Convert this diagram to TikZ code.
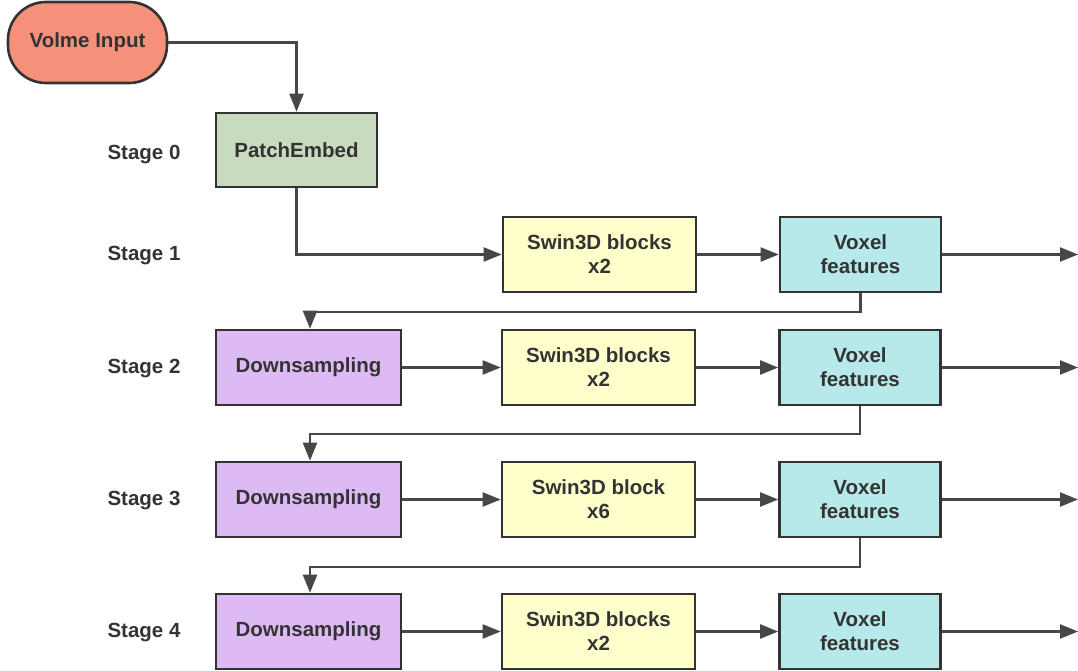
\documentclass[tikz,border=0pt]{standalone}
\usepackage{fontspec}
\setmainfont{Liberation Sans}
\usetikzlibrary{arrows.meta}
\definecolor{inputfill}{HTML}{F5917B}
\definecolor{embedfill}{HTML}{C8DBBE}
\definecolor{swinfill}{HTML}{FFFFCC}
\definecolor{voxfill}{HTML}{B7E9EA}
\definecolor{downfill}{HTML}{DEBAF5}
\definecolor{ink}{HTML}{333333}
\tikzset{
  box/.style={draw=ink, line width=2.6pt, text=ink, align=center,
    font=\fontsize{20.5}{24}\selectfont\bfseries, inner sep=0pt},
  inbox/.style={box, fill=inputfill, rounded corners=38pt, minimum width=159pt, minimum height=81pt},
  embedbox/.style={box, fill=embedfill, minimum width=161pt, minimum height=74pt},
  swinbox/.style={box, fill=swinfill, minimum width=193pt, minimum height=75pt},
  voxbox/.style={box, fill=voxfill, minimum width=161pt, minimum height=75pt},
  downbox/.style={box, fill=downfill, minimum width=185pt, minimum height=75pt},
  stagelbl/.style={text=ink, font=\fontsize{20.5}{24}\selectfont\bfseries},
  link/.style={draw=ink!90, line width=2.2pt, -{Triangle[length=18pt,width=14pt]}},
}
\begin{document}
\begin{tikzpicture}[x=1pt,y=-1pt]
\useasboundingbox (0,0) rectangle (1078,671);

% input and patch embedding
\node[inbox] (vin) at (87.5,42.5) {Volme Input};
\node[embedbox] (pe) at (296.5,150) {PatchEmbed};

% stage labels
\node[stagelbl] (s0) at (144,155) {Stage 0};
\node[stagelbl] (s1) at (144,256) {Stage 1};
\node[stagelbl] (s2) at (144,369) {Stage 2};
\node[stagelbl] (s3) at (144,501) {Stage 3};
\node[stagelbl] (s4) at (144,633) {Stage 4};

% stage 1
\node[swinbox] (sw1) at (599.5,254.5) {Swin3D blocks\\x2};
\node[voxbox] (vx1) at (860.5,254.5) {Voxel\\features};
% stage 2
\node[downbox] (ds2) at (308.5,367.5) {Downsampling};
\node[swinbox] (sw2) at (598.5,367.5) {Swin3D blocks\\x2};
\node[voxbox] (vx2) at (860,367.5) {Voxel\\features};
% stage 3
\node[downbox] (ds3) at (308.5,499.5) {Downsampling};
\node[swinbox] (sw3) at (598.5,499.5) {Swin3D block\\x6};
\node[voxbox] (vx3) at (860,499.5) {Voxel\\features};
% stage 4
\node[downbox] (ds4) at (308.5,631.5) {Downsampling};
\node[swinbox] (sw4) at (598.5,631.5) {Swin3D blocks\\x2};
\node[voxbox] (vx4) at (860,631.5) {Voxel\\features};

% outputs leaving on the right
\coordinate (o1) at (1078,254.5);
\coordinate (o2) at (1078,367.5);
\coordinate (o3) at (1078,499.5);
\coordinate (o4) at (1078,631.5);

% connectors
\draw[link] (vin.east) -| (pe.north);
\draw[link] (pe.south) |- (sw1.west);
\draw[link] (sw1) -- (vx1);
\draw[link] (vx1.east) -- (o1);
\draw[link] (vx1.south) -- ++(0,19) -| ([xshift=1.5pt]ds2.north);
\draw[link] (ds2) -- (sw2);
\draw[link] (sw2) -- (vx2);
\draw[link] (vx2.east) -- (o2);
\draw[link] (vx2.south) -- ++(0,28) -| ([xshift=1.5pt]ds3.north);
\draw[link] (ds3) -- (sw3);
\draw[link] (sw3) -- (vx3);
\draw[link] (vx3.east) -- (o3);
\draw[link] (vx3.south) -- ++(0,29) -| ([xshift=1.5pt]ds4.north);
\draw[link] (ds4) -- (sw4);
\draw[link] (sw4) -- (vx4);
\draw[link] (vx4.east) -- (o4);
\end{tikzpicture}
\end{document}
